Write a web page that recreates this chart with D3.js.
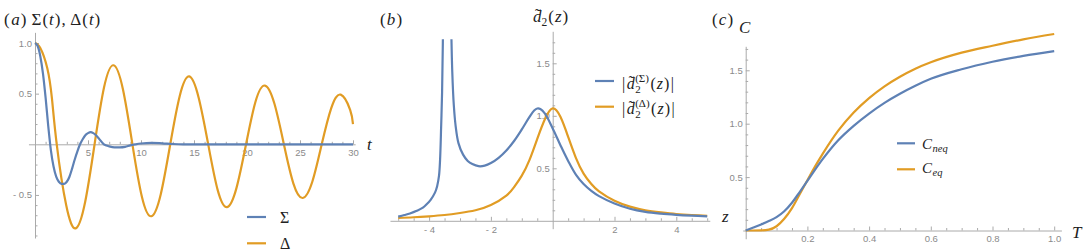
<!DOCTYPE html>
<html>
<head>
<meta charset="utf-8">
<script src="https://cdn.jsdelivr.net/npm/d3@7"></script>
<style>
  body { margin: 0; background: #fff; }
  text { white-space: pre; }
</style>
</head>
<body>
<script>
// ---- panel (a): Sigma(t), Delta(t) ----
const tSigma = [0, 0.25, 0.5, 0.75, 1.0, 1.25, 1.5, 1.75, 2.0, 2.25, 2.5, 2.75, 3.0, 3.25, 3.5, 3.75, 4.0, 4.25, 4.5, 4.75, 5.0, 5.25, 5.5, 5.75, 6.0, 6.5, 7.0, 7.5, 8.0, 8.5, 9.0, 9.5, 10, 11, 12, 13, 14, 16, 20, 25, 30];
const sigmaVals = [1.0, 0.97, 0.87, 0.70, 0.46, 0.18, -0.06, -0.22, -0.32, -0.37, -0.39, -0.39, -0.37, -0.32, -0.24, -0.15, -0.07, 0.0, 0.05, 0.09, 0.11, 0.12, 0.11, 0.09, 0.06, 0.0, -0.02, -0.03, -0.03, -0.025, -0.01, 0.0, 0.008, 0.015, 0.01, 0.003, 0, 0, 0, 0, 0];
const tDelta = [0, 0.5, 1.16, 1.6, 2.05, 2.94, 3.84, 4.73, 5.62, 6.51, 7.41, 8.30, 9.19, 10.09, 10.98, 11.87, 12.76, 13.66, 14.55, 15.44, 16.34, 17.23, 18.12, 19.01, 19.91, 20.80, 21.69, 22.59, 23.48, 24.37, 25.26, 26.16, 27.05, 27.94, 28.84, 29.73, 30];
const deltaVals = [1.0, 0.95, 0.75, 0.45, 0, -0.60, -0.83, -0.57, 0, 0.56, 0.78, 0.54, 0, -0.52, -0.71, -0.49, 0, 0.48, 0.67, 0.46, 0, -0.45, -0.62, -0.43, 0, 0.42, 0.58, 0.40, 0, -0.385, -0.53, -0.37, 0, 0.355, 0.49, 0.34, 0.20];
const aXTicks = [5, 10, 15, 20, 25, 30];
const aYTicks = [-0.5, 0.5, 1.0];

// ---- panel (b): |d2(z)| ----
const zSigmaLeft = [-5, -4.8, -4.62, -4.4, -4.2, -4.08, -3.95, -3.81, -3.74, -3.68, -3.645, -3.61, -3.58, -3.555, -3.535];
const sigmaLeft = [0.04, 0.055, 0.07, 0.095, 0.125, 0.157, 0.2, 0.268, 0.33, 0.427, 0.58, 0.9, 1.22, 1.7, 2.3];
const zSigmaRight = [-3.31, -3.29, -3.25, -3.2, -3.14, -3.05, -2.9, -2.75, -2.6, -2.4, -2.2, -2.0, -1.75, -1.5, -1.25, -1.0, -0.75, -0.6, -0.5, -0.4, -0.25, 0, 0.25, 0.5, 0.75, 1.0, 1.25, 1.5, 2.0, 2.5, 3.0, 3.5, 4.0, 4.5, 5.0];
const sigmaRight = [2.5, 1.95, 1.42, 1.1, 0.9, 0.74, 0.63, 0.57, 0.54, 0.52, 0.525, 0.55, 0.60, 0.67, 0.76, 0.87, 0.99, 1.05, 1.07, 1.065, 1.02, 0.88, 0.72, 0.57, 0.44, 0.35, 0.285, 0.235, 0.165, 0.115, 0.085, 0.068, 0.057, 0.049, 0.043];
const zDelta = [-5, -4.5, -4, -3.5, -3, -2.5, -2, -1.5, -1.25, -1, -0.75, -0.5, -0.25, 0, 0.25, 0.5, 0.75, 1, 1.25, 1.5, 2, 2.5, 3, 3.5, 4, 4.5, 5];
const deltaB = [0.028, 0.034, 0.043, 0.055, 0.074, 0.10, 0.15, 0.24, 0.32, 0.43, 0.58, 0.78, 0.97, 1.07, 0.99, 0.80, 0.60, 0.45, 0.35, 0.28, 0.19, 0.135, 0.10, 0.08, 0.065, 0.055, 0.047];
const bXTicks = [-4, -2, 2, 4];
const bYTicks = [0.5, 1.0, 1.5];

// ---- panel (c): C(T) ----
const temps = [0, 0.025, 0.05, 0.075, 0.1, 0.125, 0.15, 0.175, 0.2, 0.225, 0.25, 0.3, 0.35, 0.4, 0.45, 0.5, 0.55, 0.6, 0.7, 0.8, 0.9, 1.0];
const cNeq = [0, 0.028, 0.057, 0.088, 0.125, 0.18, 0.26, 0.36, 0.465, 0.57, 0.67, 0.845, 0.98, 1.095, 1.195, 1.28, 1.355, 1.42, 1.51, 1.58, 1.635, 1.68];
const cEq = [0, 0, 0.001, 0.008, 0.04, 0.11, 0.21, 0.34, 0.47, 0.60, 0.72, 0.935, 1.105, 1.24, 1.35, 1.44, 1.515, 1.575, 1.665, 1.73, 1.79, 1.84];
const cXTicks = [0.2, 0.4, 0.6, 0.8, 1.0];
const cYTicks = [0.5, 1.0, 1.5];

const blue = "#5e81b5", orange = "#e19c24";
const axisCol = "#aaaaaa", tickText = "#8a8a8a", ink = "#222";
const serif = "'Liberation Serif', 'DejaVu Serif', serif";
const sans = "'Liberation Sans', Arial, sans-serif";

const svg = d3.select("body").append("svg")
    .attr("width", 1089)
    .attr("height", 252);

function range(a, b, step) {
    const out = [];
    for (let i = 0; a + i * step <= b + 1e-9; i++) out.push(+(a + i * step).toFixed(4));
    return out;
}

function minusFmt(digits) {
    return d => (d < 0 ? "- " : "") + Math.abs(d).toFixed(digits);
}

// axes in Mathematica style: ticks pointing inwards, labels outside
function drawAxes(g, x, y, o) {
    g.append("line")
        .attr("x1", x(o.xExt[0])).attr("x2", x(o.xExt[1]))
        .attr("y1", y(0) + 0.5).attr("y2", y(0) + 0.5)
        .attr("stroke", axisCol);
    g.append("line")
        .attr("x1", x(o.yAt) + 0.5).attr("x2", x(o.yAt) + 0.5)
        .attr("y1", y(o.yExt[0])).attr("y2", y(o.yExt[1]))
        .attr("stroke", axisCol);

    const xa = g.append("g").attr("transform", "translate(0," + y(0) + ")");
    xa.append("g").call(d3.axisBottom(x).tickValues(o.xMinor).tickSizeInner(-2.5).tickSizeOuter(0).tickFormat(""));
    xa.append("g").call(d3.axisBottom(x).tickValues(o.xMajor).tickSizeInner(-4).tickSizeOuter(0).tickPadding(5).tickFormat(o.xFmt));

    const ya = g.append("g").attr("transform", "translate(" + x(o.yAt) + ",0)");
    ya.append("g").call(d3.axisLeft(y).tickValues(o.yMinor).tickSizeInner(-2.5).tickSizeOuter(0).tickFormat(""));
    ya.append("g").call(d3.axisLeft(y).tickValues(o.yMajor).tickSizeInner(-4).tickSizeOuter(0).tickPadding(3).tickFormat(o.yFmt));

    g.selectAll(".domain").remove();
    g.selectAll(".tick line").attr("stroke", axisCol);
    g.selectAll(".tick text")
        .attr("fill", tickText)
        .style("font-family", sans)
        .style("font-size", "9.5px");
}

// little typesetter for the math labels
function mathText(g, x, y, parts) {
    let cx = x, prevStart = x;
    parts.forEach(p => {
        const start = p.stack ? prevStart + (p.dx || 0) : cx + (p.dx || 0);
        const t = g.append("text")
            .attr("x", start)
            .attr("y", y + (p.dy || 0))
            .attr("fill", ink)
            .style("font-family", serif)
            .style("font-size", (p.size || 16) + "px")
            .style("font-style", p.it ? "italic" : "normal")
            .text(p.s);
        const w = t.node().getComputedTextLength();
        if (p.stack) {
            if (!p.over) cx = Math.max(cx, start + w);
        } else {
            prevStart = start;
            cx = start + w;
        }
    });
}

function legendLine(g, x1, x2, y, col) {
    g.append("line").attr("x1", x1).attr("x2", x2).attr("y1", y).attr("y2", y)
        .attr("stroke", col).attr("stroke-width", 2.2);
}

// ================= panel (a) =================
const xA = d3.scaleLinear().domain([0, 30]).range([35, 353]);
const yA = d3.scaleLinear().domain([0, 1]).range([144.3, 43]);
const gA = svg.append("g");
drawAxes(gA, xA, yA, {
    xExt: [-0.57, 30.25], yExt: [-0.93, 1.1], yAt: 0,
    xMajor: aXTicks, xMinor: range(1, 30, 1).filter(v => v % 5 !== 0), xFmt: d3.format("d"),
    yMajor: aYTicks, yMinor: range(-0.9, 1.0, 0.1).filter(v => Math.abs(v) > 1e-6 && Math.abs(v * 2 - Math.round(v * 2)) > 1e-6), yFmt: minusFmt(1)
});
const lineA = d3.line().x(d => xA(d[0])).y(d => yA(d[1]));
gA.append("path")
    .datum(d3.zip(tDelta, deltaVals))
    .attr("d", lineA.curve(d3.curveNatural))
    .attr("fill", "none").attr("stroke", orange).attr("stroke-width", 2.2);
gA.append("path")
    .datum(d3.zip(tSigma, sigmaVals))
    .attr("d", lineA.curve(d3.curveMonotoneX))
    .attr("fill", "none").attr("stroke", blue).attr("stroke-width", 2.2);

mathText(gA, 4, 25, [
    { s: "(", size: 17 }, { s: "a", it: true, size: 17, dx: 1.5 }, { s: ")", size: 17, dx: 1.2 },
    { s: "Σ", size: 17, dx: 5 }, { s: "(", size: 17, dx: 1 }, { s: "t", it: true, size: 17, dx: 1 }, { s: ")", size: 17, dx: 1 },
    { s: ",", size: 17, dx: 1 },
    { s: "Δ", size: 17, dx: 4.5 }, { s: "(", size: 17, dx: 1 }, { s: "t", it: true, size: 17, dx: 1 }, { s: ")", size: 17, dx: 1 }
]);
mathText(gA, 367, 150, [{ s: "t", it: true, size: 17 }]);
legendLine(gA, 247, 266, 217, blue);
legendLine(gA, 247, 266, 243.3, orange);
mathText(gA, 280, 223, [{ s: "Σ", size: 16 }]);
mathText(gA, 280, 249, [{ s: "Δ", size: 16 }]);

// ================= panel (b) =================
const xB = d3.scaleLinear().domain([-5, 5]).range([398.2, 707.2]);
const yB = d3.scaleLinear().domain([0, 1]).range([220.8, 115.8]);
const gB = svg.append("g");
drawAxes(gB, xB, yB, {
    xExt: [-5.25, 5.1], yExt: [-0.08, 1.8], yAt: 0,
    xMajor: bXTicks, xMinor: range(-5, 5, 0.5).filter(v => v !== 0 && v % 2 !== 0), xFmt: minusFmt(0),
    yMajor: bYTicks, yMinor: range(0.1, 1.7, 0.1).filter(v => Math.abs(v * 2 - Math.round(v * 2)) > 1e-6), yFmt: d3.format(".1f")
});
svg.append("clipPath").attr("id", "clipB")
    .append("rect").attr("x", 380).attr("y", yB(1.73)).attr("width", 340).attr("height", 220);
const lineB = d3.line().x(d => xB(d[0])).y(d => yB(d[1]));
const curvesB = gB.append("g").attr("clip-path", "url(#clipB)");
curvesB.append("path")
    .datum(d3.zip(zDelta, deltaB))
    .attr("d", lineB.curve(d3.curveNatural))
    .attr("fill", "none").attr("stroke", orange).attr("stroke-width", 2.2);
[d3.zip(zSigmaLeft, sigmaLeft), d3.zip(zSigmaRight, sigmaRight)].forEach(branch => {
    curvesB.append("path")
        .datum(branch)
        .attr("d", lineB.curve(d3.curveCatmullRom.alpha(0.5)))
        .attr("fill", "none").attr("stroke", blue).attr("stroke-width", 2.2);
});

mathText(gB, 380, 25, [{ s: "(", size: 17 }, { s: "b", it: true, size: 17, dx: 1.2 }, { s: ")", size: 17, dx: 1.2 }]);
mathText(gB, 533, 22, [
    { s: "d", it: true, size: 17 }, { s: "˜", stack: true, over: true, dx: 2, dy: -2, size: 17 },
    { s: "2", size: 11.5, dy: 4 },
    { s: "(", size: 17, dx: 1 }, { s: "z", it: true, size: 17, dx: 1 }, { s: ")", size: 17, dx: 1 }
]);
mathText(gB, 722, 222, [{ s: "z", it: true, size: 17 }]);

legendLine(gB, 595, 614, 81, blue);
legendLine(gB, 595, 614, 106.7, orange);
[["Σ", 88.5], ["Δ", 114]].forEach(([sym, yy]) => {
    mathText(gB, 622, yy, [
        { s: "|", size: 16 }, { s: "d", it: true, size: 16, dx: 1.5 }, { s: "˜", stack: true, over: true, dx: 2, dy: -2, size: 16 },
        { s: "2", size: 11, dy: 4, dx: 0.5 }, { s: "(" + sym + ")", stack: true, size: 11, dy: -7 },
        { s: "(", size: 16, dx: 1.5 }, { s: "z", it: true, size: 16, dx: 1 }, { s: ")", size: 16, dx: 1 },
        { s: "|", size: 16, dx: 1.5 }
    ]);
});

// ================= panel (c) =================
const xC = d3.scaleLinear().domain([0, 1]).range([745.7, 1054.2]);
const yC = d3.scaleLinear().domain([0, 1]).range([230.5, 123.7]);
const gC = svg.append("g");
drawAxes(gC, xC, yC, {
    xExt: [-0.008, 1.025], yExt: [-0.082, 1.72], yAt: 0,
    xMajor: cXTicks, xMinor: range(0.05, 1.0, 0.05).filter(v => Math.abs(v * 5 - Math.round(v * 5)) > 1e-6), xFmt: d3.format(".1f"),
    yMajor: cYTicks, yMinor: range(0.1, 1.7, 0.1).filter(v => Math.abs(v * 2 - Math.round(v * 2)) > 1e-6), yFmt: d3.format(".1f")
});
const lineC = d3.line().x(d => xC(d[0])).y(d => yC(d[1])).curve(d3.curveMonotoneX);
gC.append("path")
    .datum(d3.zip(temps, cEq))
    .attr("d", lineC)
    .attr("fill", "none").attr("stroke", orange).attr("stroke-width", 2.2);
gC.append("path")
    .datum(d3.zip(temps, cNeq))
    .attr("d", lineC)
    .attr("fill", "none").attr("stroke", blue).attr("stroke-width", 2.2);

mathText(gC, 712, 25, [{ s: "(", size: 17 }, { s: "c", it: true, size: 17, dx: 1.2 }, { s: ")", size: 17, dx: 1.2 }]);
mathText(gC, 739, 33.3, [{ s: "C", it: true, size: 17 }]);
mathText(gC, 1072, 237.5, [{ s: "T", it: true, size: 17 }]);
legendLine(gC, 897, 915, 143.3, blue);
legendLine(gC, 897, 915, 169.3, orange);
mathText(gC, 922, 148.7, [{ s: "C", it: true, size: 15 }, { s: "neq", it: true, size: 10.5, dy: 3.5, dx: 0.5 }]);
mathText(gC, 922, 172.7, [{ s: "C", it: true, size: 15 }, { s: "eq", it: true, size: 10.5, dy: 3.5, dx: 0.5 }]);
</script>
</body>
</html>
